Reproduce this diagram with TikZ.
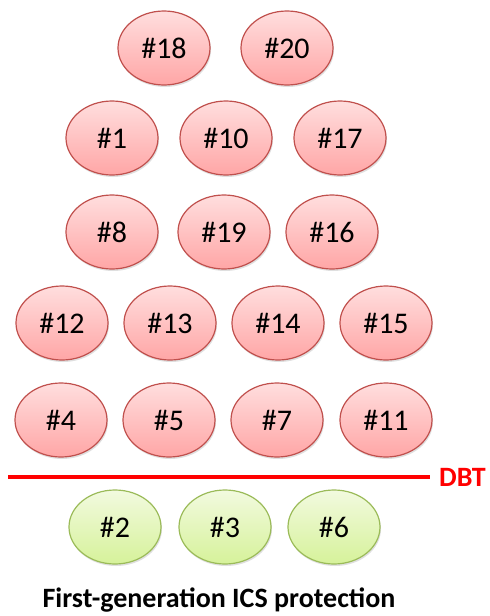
\documentclass[tikz,border=0pt]{standalone}
\usepackage{fontspec}
\setmainfont{Carlito}
\usetikzlibrary{shapes.geometric,shadows}
\definecolor{redborder}{HTML}{C0504D}
\definecolor{redtop}{HTML}{FFDEDE}
\definecolor{redbot}{HTML}{FFA6A6}
\definecolor{greenborder}{HTML}{9BBB59}
\definecolor{greentop}{HTML}{F2FADF}
\definecolor{greenbot}{HTML}{D6F29A}
\definecolor{dbtred}{HTML}{FF0000}
\tikzset{
  threat/.style={ellipse, minimum width=92pt, minimum height=74pt, inner sep=0pt,
    draw=redborder, line width=1.2pt, top color=redtop, bottom color=redbot,
    drop shadow={shadow xshift=1pt, shadow yshift=-2pt, opacity=0.25},
    font=\fontsize{30}{34}\selectfont},
  safe/.style={threat, draw=greenborder, top color=greentop, bottom color=greenbot}
}
\begin{document}
\begin{tikzpicture}[x=1pt,y=-1pt]
\useasboundingbox (0,0) rectangle (490,616);
\node[threat] (n18) at (164,48) {\#18};
\node[threat] (n20) at (287,48) {\#20};
\node[threat] (n1) at (112,138) {\#1};
\node[threat] (n10) at (226,138) {\#10};
\node[threat] (n17) at (340,138) {\#17};
\node[threat] (n8) at (112,232) {\#8};
\node[threat] (n19) at (224,232) {\#19};
\node[threat] (n16) at (332,232) {\#16};
\node[threat] (n12) at (62,323) {\#12};
\node[threat] (n13) at (170,323) {\#13};
\node[threat] (n14) at (278,323) {\#14};
\node[threat] (n15) at (386,323) {\#15};
\node[threat] (n4) at (61,420) {\#4};
\node[threat] (n5) at (169,420) {\#5};
\node[threat] (n7) at (277,420) {\#7};
\node[threat] (n11) at (386,420) {\#11};
\node[safe] (n2) at (115,527) {\#2};
\node[safe] (n3) at (225,527) {\#3};
\node[safe] (n6) at (334,527) {\#6};
\coordinate (la) at (8,477);
\coordinate (lb) at (430,477);
\draw[dbtred, line width=3.5pt] (la) -- (lb);
\node[dbtred, font=\bfseries\fontsize{28}{32}\selectfont, anchor=west, inner sep=0pt] (dbt) at (439,477) {DBT};
\node[font=\bfseries\fontsize{28}{32}\selectfont] (title) at (219,600) {First-generation ICS protection};
\end{tikzpicture}
\end{document}
